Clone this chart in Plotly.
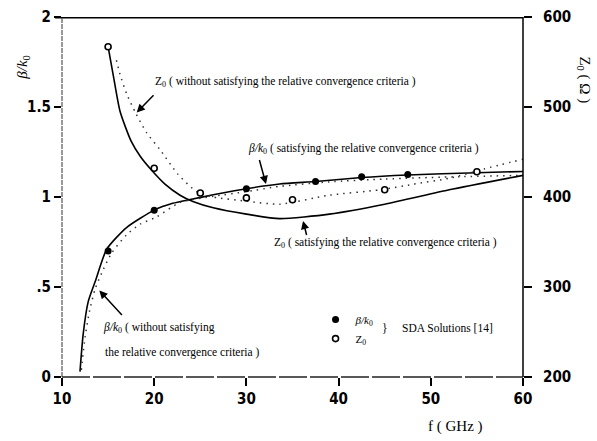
import plotly.graph_objects as go

# ---- data ----
beta_sat_x = [11.95, 12.3, 12.85, 13.6, 14.85, 17.0, 20.0, 22.0, 23.9, 26.4, 30.0, 33.6, 37.5, 42.5, 47.5, 55.0, 60.0]
beta_sat_y = [0.03, 0.24, 0.42, 0.53, 0.71, 0.83, 0.927, 0.965, 0.986, 1.012, 1.046, 1.072, 1.086, 1.108, 1.122, 1.135, 1.142]

beta_wo_x = [12.1, 12.5, 13.0, 13.6, 14.5, 15.4, 17.0, 18.5, 20.3, 22.8, 26.4, 30.0, 33.6, 39.0, 45.0, 53.2, 60.0]
beta_wo_y = [0.04, 0.22, 0.37, 0.49, 0.60, 0.69, 0.79, 0.85, 0.89, 0.97, 1.004, 1.03, 1.059, 1.084, 1.10, 1.113, 1.12]

z_sat_x = [15.0, 15.6, 16.3, 17.5, 18.5, 19.7, 21.2, 22.8, 24.2, 26.4, 30.0, 33.6, 39.0, 45.0, 52.0, 60.0]
z_sat_y = [567, 533, 495, 462, 445, 430, 414, 402, 395, 388, 381, 376, 381, 392, 408, 424]

z_wo_x = [15.9, 16.3, 17.0, 18.0, 19.2, 20.6, 22.6, 24.6, 26.4, 30.0, 33.6, 39.0, 44.5, 48.0, 52.1, 55.7, 60.0]
z_wo_y = [552, 536, 515, 493, 471, 453, 425, 406, 400, 395.4, 392, 402, 408, 414, 421, 431, 442]

sda_beta_x = [15, 20, 30, 37.5, 42.5, 47.5]
sda_beta_y = [0.70, 0.927, 1.046, 1.086, 1.113, 1.125]

sda_z_x = [15, 20, 25, 30, 35, 45, 55]
sda_z_y = [567, 432, 404.5, 399, 397, 408, 428]

x_ticks = [10, 20, 30, 40, 50, 60]
y_ticks = [0, 0.5, 1, 1.5, 2]
y_ticktext = ["0", ".5", "1", "1.5", "2"]
y2_ticks = [200, 300, 400, 500, 600]

SERIF = "Liberation Serif, Times New Roman, serif"
TICKF = dict(family="Liberation Sans Narrow, DejaVu Sans Condensed, Arial Narrow, sans-serif",
             size=15, color="black", weight="bold")
DOT = "1.5px,5px"

fig = go.Figure()
fig.add_trace(go.Scatter(x=beta_sat_x, y=beta_sat_y, mode="lines", line=dict(color="black", width=1.6, shape="spline", smoothing=0.6), showlegend=False))
fig.add_trace(go.Scatter(x=beta_wo_x, y=beta_wo_y, mode="lines", line=dict(color="#333", width=1.5, dash=DOT, shape="spline", smoothing=0.6), showlegend=False))
fig.add_trace(go.Scatter(x=z_sat_x, y=z_sat_y, mode="lines", yaxis="y2", line=dict(color="black", width=1.6, shape="spline", smoothing=0.6), showlegend=False))
fig.add_trace(go.Scatter(x=z_wo_x, y=z_wo_y, mode="lines", yaxis="y2", line=dict(color="#333", width=1.5, dash=DOT, shape="spline", smoothing=0.6), showlegend=False))
fig.add_trace(go.Scatter(x=sda_beta_x, y=sda_beta_y, mode="markers", name="<i>β/k</i><sub>0</sub>",
                         marker=dict(symbol="circle", size=7, color="black")))
fig.add_trace(go.Scatter(x=sda_z_x, y=sda_z_y, mode="markers", yaxis="y2", name="Z<sub>0</sub>",
                         marker=dict(symbol="circle", size=6, color="white", line=dict(color="black", width=1.6))))

px2x = lambda p: 10 + (p - 62) / 9.22
py2y = lambda p: (377 - p) / 184.5

arrows = [((155, 86.7), (136.7, 106)), ((259, 153), (266, 179.3)), ((307, 233), (303, 217)), ((123.3, 315), (99.3, 288.3))]
ann = []
for (tx, ty), (hx, hy) in arrows:
    ann.append(dict(x=px2x(hx), y=py2y(hy), ax=px2x(tx), ay=py2y(ty), xref="x", yref="y", axref="x", ayref="y",
                    showarrow=True, arrowhead=2, arrowsize=1.1, arrowwidth=1.5, arrowcolor="black", text=""))

texts = [
    (153, 75, "Z<sub>0</sub> ( without satisfying the relative convergence criteria )"),
    (246, 143, "<i>β/k</i><sub>0</sub> ( satisfying the relative convergence criteria )"),
    (272, 240, "Z<sub>0</sub> ( satisfying the relative convergence criteria )"),
    (101, 327, "<i>β/k</i><sub>0</sub> ( without satisfying"),
    (103, 352, "the relative convergence criteria )"),
    (380, 327, "}"),
    (400, 327, "SDA Solutions [14]"),
]
for px, py, t in texts:
    ann.append(dict(x=px2x(px), y=py2y(py), xref="x", yref="y", text=t, showarrow=False, xanchor="left", yanchor="middle",
                    font=dict(family=SERIF, size=11.5, color="black")))

W, H = 597, 441
L, R, T, B = 62, 74, 8, 64
pw, ph = W - L - R, H - T - B
def pxp(px, py):
    return (px - L) / pw, (H - B - py) / ph
for px, py, t, ang in [(23, 60, "<i>β/k</i><sub>0</sub>", -90), (584, 72, "Z<sub>0</sub> ( Ω )", 90), (455, 428, "f ( GHz )", 0)]:
    xp, yp = pxp(px, py)
    ann.append(dict(x=xp, y=yp, xref="paper", yref="paper", text=t, textangle=ang, showarrow=False,
                    xanchor="center", yanchor="middle", font=dict(family=SERIF, size=15, color="black")))

shapes = [
    dict(type="line", xref="paper", yref="paper", x0=-0.015, x1=1.0, y0=0.998, y1=0.998, layer="above", line=dict(color="black", width=1.6)),
    dict(type="line", xref="paper", yref="paper", x0=1, x1=1, y0=0, y1=1, line=dict(color="black", width=1.5)),
    dict(type="line", xref="paper", yref="paper", x0=0, x1=0, y0=0, y1=1, line=dict(color="#555", width=1.2, dash="5px,1px")),
    dict(type="line", xref="paper", yref="paper", x0=0, x1=1, y0=0, y1=0, line=dict(color="#222", width=1.5, dash="28px,3px")),
]

fig.update_layout(
    width=W, height=H, margin=dict(l=L, r=R, t=T, b=B),
    paper_bgcolor="white", plot_bgcolor="white",
    xaxis=dict(range=[10, 60], tickvals=x_ticks, showgrid=False, zeroline=False, showline=False,
               ticks="outside", ticklen=8, tickwidth=1.5, tickcolor="black", tickfont=TICKF, ticklabeloverflow="allow"),
    yaxis=dict(range=[0, 2], tickvals=y_ticks, ticktext=y_ticktext, showgrid=False, zeroline=False, showline=False,
               ticks="outside", ticklen=7, tickwidth=1.5, tickcolor="black", tickfont=TICKF, ticklabeloverflow="allow"),
    yaxis2=dict(range=[200, 600], tickvals=y2_ticks, overlaying="y", side="right", showgrid=False, zeroline=False,
                showline=False, ticks="outside", ticklen=8, tickwidth=1.5, tickcolor="black", tickfont=TICKF,
                ticklabeloverflow="allow", ticklabelstandoff=8),
    legend=dict(x=0.55, y=0.133, xanchor="left", yanchor="middle", bgcolor="rgba(0,0,0,0)",
                font=dict(family=SERIF, size=11, color="black"), itemwidth=30, tracegroupgap=0),
    annotations=ann, shapes=shapes,
)
fig.write_html("out.html")
